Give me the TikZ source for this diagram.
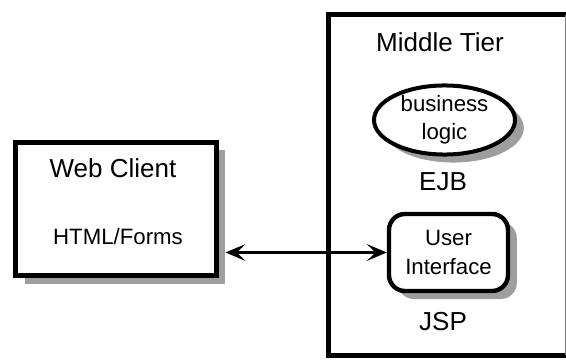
\documentclass[tikz,border=0pt]{standalone}
\usepackage{fontspec}
\setmainfont{Liberation Sans}
\usetikzlibrary{arrows.meta,positioning,calc,shadows,shapes.geometric}

\begin{document}
\begin{tikzpicture}[x=0.025cm, y=-0.025cm,
  >={Stealth[length=0.5cm,width=0.42cm,inset=0.22cm]},
  dropsh/.style={drop shadow={shadow xshift=0.22cm, shadow yshift=-0.2cm,
    fill=black!38, opacity=1}},
  box/.style={draw, line width=0.125cm, fill=white, inner sep=0pt},
  big/.style={font=\fontsize{18.5}{22}\selectfont},
  small/.style={font=\fontsize{15.8}{20}\selectfont, align=center},
  arr/.style={<->, line width=0.09cm}]

\useasboundingbox (0,0) rectangle (566,361);
\clip (0,0) rectangle (566,361);

% Middle tier
\node[box, minimum width=6.1375cm, minimum height=8.5cm] (tier) at (451.25,185) {};
\draw[gray, line width=0.6pt] (565,15) -- (565,355);
\node[big] (tiertitle) at (440,42) {Middle Tier};
\node[box, dropsh, ellipse, line width=0.1cm, minimum width=3.525cm,
  minimum height=1.525cm, small] (ejb) at (444.5,120) {business\\logic};
\node[big] (ejblabel) at (443,182) {EJB};
\node[box, dropsh, rounded corners=0.4cm, line width=0.11cm, minimum width=2.975cm,
  minimum height=1.925cm, small] (ui) at (448.5,252.5) {User\\Interface};
\node[big] (jsplabel) at (443,322) {JSP};

% Web client
\node[box, dropsh, minimum width=5cm, minimum height=3.325cm] (web) at (116,209) {};
\node[big] (webtitle) at (113,168) {Web Client};
\node[small] (webforms) at (118,237) {HTML/Forms};

% Arrows
\draw[arr, shorten <=0.175cm] (web.east |- ui.west) -- (ui.west);

\end{tikzpicture}
\end{document}
